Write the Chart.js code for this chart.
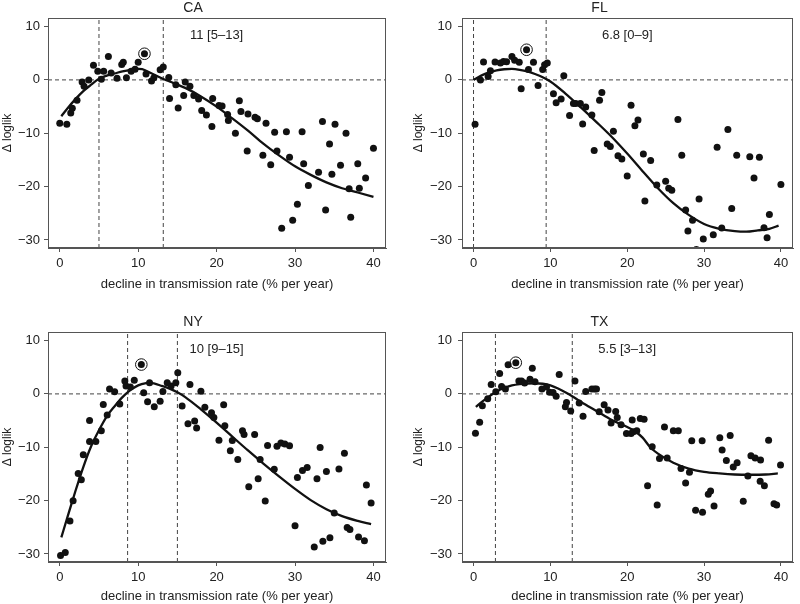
<!DOCTYPE html>
<html>
<head>
<meta charset="utf-8">
<script src="https://cdn.jsdelivr.net/npm/chart.js@4.4.1/dist/chart.umd.min.js"></script>
<style>
  body { margin: 0; background: #fff; }
  #wrap { position: relative; width: 800px; height: 604px; overflow: hidden; }
  canvas { position: absolute; }
</style>
</head>
<body>
<div id="wrap">
  <canvas id="chartCA" width="400" height="292" style="left:0;top:0"></canvas>
  <canvas id="chartFL" width="400" height="292" style="left:400px;top:0"></canvas>
  <canvas id="chartNY" width="400" height="290" style="left:0;top:314px"></canvas>
  <canvas id="chartTX" width="400" height="290" style="left:400px;top:314px"></canvas>
</div>
<script>
const xTicks = [0, 10, 20, 30, 40];
const yTicks = [-30, -20, -10, 0, 10];

// CA
const caX = [0.0, 0.9, 1.4, 1.6, 2.2, 2.85, 3.1, 3.7, 4.3, 4.85, 5.3, 5.6, 6.2, 6.55, 7.3, 7.9, 8.1, 8.5, 9.1, 9.6,
  10.0, 10.8, 11.0, 11.7, 12.0, 12.8, 13.2, 13.9, 14.0, 14.8, 15.1, 15.8, 16.0, 16.6, 17.1, 17.7, 18.1, 18.7, 19.4, 19.5,
  20.3, 20.7, 21.4, 21.5, 22.4, 22.9, 23.1, 23.9, 24.0, 24.9, 25.2, 25.9, 26.3, 26.9, 27.4, 27.7, 28.3, 28.9, 29.3, 29.7,
  30.3, 30.9, 31.1, 31.7, 33.0, 33.5, 33.9, 34.4, 34.7, 35.1, 35.8, 36.5, 36.9, 37.1, 38.0, 38.2, 39.0, 40.0];
const caY = [-8.1, -8.3, -6.2, -5.3, -3.8, -0.4, -1.2, 0.0, 2.75, 1.6, 0.1, 1.6, 4.4, 1.3, 0.3, 2.9, 3.3, 0.4, 1.6, 2.0,
  3.3, 4.9, 1.1, -0.2, 0.4, 1.9, 2.4, 0.45, -3.5, -0.9, -5.25, -2.9, -0.4, -1.2, -2.9, -3.6, -5.75, -6.6, -8.75, -3.5,
  -4.8, -4.9, -6.5, -7.6, -10.0, -3.9, -5.9, -13.3, -6.4, -7.0, -7.3, -14.1, -8.1, -15.9, -9.8, -13.3, -27.8, -9.7, -14.5, -26.3,
  -23.3, -9.7, -15.7, -19.8, -17.3, -7.8, -24.4, -12.0, -17.7, -8.3, -16.0, -10.0, -20.4, -25.75, -15.7, -20.3, -18.4, -12.8];
const caFitX = [0.2, 1, 2, 3, 4, 5, 6, 7, 8, 9, 10, 10.5, 11, 12, 13, 14, 16, 18, 20, 22, 24, 26, 28, 30, 32, 34, 36, 38, 40];
const caFitY = [-6.8, -5.3, -3.6, -2.1, -0.9, 0.2, 0.8, 1.2, 1.6, 1.9, 2.05, 2.0, 1.7, 1.0, 0.3, -0.3, -1.5, -3.1, -5.0, -7.2, -9.5, -12.0, -14.2, -16.2, -17.8, -19.2, -20.3, -21.1, -21.9];
const caBest = [10.8, 4.9];
const caCI = [5.0, 13.2];
const caLabel = "11 [5–13]";

// FL
const flX = [0.2, 0.9, 1.3, 1.9, 2.2, 2.8, 3.5, 3.9, 4.3, 5.0, 5.35, 5.95, 6.2, 6.9, 7.15, 7.8, 8.4, 9.0, 9.25, 9.6,
  10.4, 10.75, 11.4, 11.75, 12.5, 13.0, 13.3, 13.9, 14.2, 14.6, 15.4, 15.7, 16.4, 16.7, 17.4, 17.8, 18.2, 18.8, 19.3, 20.0,
  20.5, 21.0, 21.4, 22.1, 22.3, 23.05, 23.85, 25.0, 25.4, 25.8, 26.6, 27.1, 27.6, 27.9, 28.5, 29.0, 29.35, 29.9,
  31.2, 31.7, 32.3, 33.1, 33.6, 34.25, 35.95, 36.5, 37.2, 37.8, 38.2, 38.5, 40.0];
const flY = [-8.3, 0.0, 3.35, 0.65, 1.7, 3.35, 3.15, 3.45, 3.4, 4.4, 3.7, 3.3, -1.65, 5.65, 1.95, 3.3, -1.05, 1.95, 2.85, 3.15,
  -2.6, -4.3, -3.6, 0.8, -6.65, -4.4, -4.4, -4.4, -8.25, -5.1, -6.6, -13.25, -3.8, -2.35, -12.0, -12.5, -9.6, -14.2, -14.8, -18.0,
  -4.75, -8.6, -7.5, -13.9, -22.7, -15.1, -19.7, -19.0, -20.3, -20.7, -7.4, -14.1, -24.4, -28.3, -26.3, -31.8, -22.3, -29.8,
  -29.0, -12.6, -27.75, -9.3, -24.1, -14.1, -14.4, -18.4, -14.5, -27.7, -29.6, -25.2, -19.6];
const flFitX = [0, 1, 2, 3, 4, 5, 6, 7, 8, 9, 10, 12, 14, 16, 18, 20, 22, 24, 26, 28, 30, 32, 34, 35.5, 37, 38.5, 39.7];
const flFitY = [0, 0.8, 1.4, 1.8, 2.0, 2.05, 1.9, 1.6, 1.1, 0.5, -0.3, -2.6, -5.2, -7.9, -10.7, -13.8, -17.1, -20.3, -23.1, -25.3, -27.0, -27.9, -28.35, -28.45, -28.2, -27.9, -27.3];
const flBest = [6.9, 5.65];
const flCI = [0.0, 9.45];
const flLabel = "6.8 [0–9]";

// NY
const nyX = [0.1, 0.7, 1.3, 1.7, 2.35, 2.75, 3.0, 3.8, 3.8, 4.6, 5.3, 5.55, 6.05, 6.35, 7.0, 7.65, 8.3, 8.45, 9.0, 9.5,
  10.4, 10.7, 11.2, 11.45, 12.05, 12.8, 13.15, 13.7, 14.2, 14.8, 15.05, 15.6, 16.35, 16.6, 17.2, 17.45, 18.0, 18.5, 19.35, 19.65,
  20.3, 20.9, 21.05, 21.75, 22.0, 22.7, 23.3, 23.5, 24.1, 24.85, 25.3, 25.55, 26.2, 26.5, 27.35, 27.7, 28.2, 28.7, 29.3,
  30.0, 30.3, 30.95, 31.55, 32.45, 32.8, 33.2, 33.55, 34.0, 34.45, 35.0, 35.6, 36.3, 36.65, 37.0, 38.1, 38.85, 39.1, 39.7];
const nyY = [-30.3, -29.7, -23.8, -20.0, -14.9, -16.1, -11.4, -5.0, -8.9, -8.9, -6.9, -2.0, -3.95, 0.9, 0.4, -1.9, 2.4, 1.5, 1.3, 2.55,
  5.5, 0.2, -1.45, 2.1, -2.4, -1.4, 0.45, 2.1, 1.5, 2.1, 3.95, -2.25, -5.6, 1.75, -5.1, -6.4, 0.5, -2.5, -3.55, -4.4,
  -8.7, -2.05, -5.95, -10.65, -8.75, -12.3, -6.9, -7.6, -17.4, -7.6, -15.9, -12.3, -20.05, -9.65, -14.1, -9.8, -9.2, -9.4, -9.7,
  -24.7, -15.65, -14.35, -13.8, -28.7, -15.9, -10.05, -27.6, -14.55, -26.95, -22.3, -14.05, -11.1, -25.05, -25.4, -26.8, -27.5, -17.05, -20.45];
const nyFitX = [0.2, 1, 2, 3, 4, 5, 6, 7, 8, 9, 10, 11, 11.5, 12, 13, 14, 15, 16, 18, 20, 22, 24, 26, 28, 30, 32, 34, 36, 38, 39.7];
const nyFitY = [-26.9, -23.0, -18.2, -13.7, -9.8, -6.8, -4.2, -2.3, -0.6, 0.7, 1.6, 2.0, 2.05, 1.95, 1.5, 1.0, 0.3, -0.6, -2.9, -5.4, -8.0, -10.6, -13.1, -15.5, -17.8, -19.9, -21.6, -22.9, -23.8, -24.4];
const nyBest = [10.4, 5.5];
const nyCI = [8.65, 15.0];
const nyLabel = "10 [9–15]";

// TX
const txX = [0.25, 0.8, 1.15, 1.85, 2.3, 2.9, 3.4, 3.65, 4.15, 4.5, 5.5, 5.9, 6.25, 6.65, 7.35, 7.65, 8.0, 8.9, 9.5, 9.9,
  10.35, 10.75, 11.15, 11.95, 12.1, 12.65, 13.2, 13.75, 14.25, 14.6, 15.4, 15.75, 16.0, 16.35, 17.0, 17.5, 17.9, 18.5, 18.7, 19.2,
  19.9, 20.5, 20.65, 20.8, 21.25, 21.7, 22.2, 22.65, 23.25, 23.9, 24.2, 24.85, 25.2, 26.0, 26.65, 27.0, 27.6, 28.1, 28.4, 28.9,
  29.75, 29.8, 30.55, 30.85, 31.3, 32.05, 32.35, 32.9, 33.4, 33.8, 34.3, 35.1, 35.7, 36.1, 36.65, 37.3, 37.35, 37.85, 38.4,
  39.1, 39.45, 39.95];
const txY = [-7.35, -5.3, -2.2, -0.9, 1.75, 0.4, 3.8, 1.4, 0.9, 5.45, 5.85, 2.4, 2.4, 2.05, 2.75, 4.8, 2.3, 0.9, 1.3, 0.3,
  0.25, -0.45, 3.65, -2.4, -1.6, -3.2, 2.4, -1.7, -4.2, 0.45, 0.9, 0.9, 0.9, -3.35, -2.05, -3.0, -5.45, -3.3, -4.4, -5.8,
  -7.4, -7.4, -4.9, -7.1, -6.9, -4.6, -4.75, -17.2, -9.9, -20.8, -12.1, -6.2, -12.0, -6.9, -6.9, -14.0, -16.7, -14.7, -8.8, -21.8,
  -8.8, -22.2, -18.8, -18.2, -21.0, -8.2, -10.5, -12.5, -7.8, -13.7, -12.9, -20.1, -15.4, -11.6, -12.0, -16.35, -12.4, -17.2, -8.7,
  -20.6, -20.8, -13.3];
const txFitX = [0.3, 1, 2, 3, 4, 5, 6, 7, 8, 9, 10, 11, 12, 13, 14, 16, 18, 20, 21, 22, 23, 24, 26, 28, 30, 32, 34, 36, 38, 39.6];
const txFitY = [-2.45, -1.6, -0.5, 0.45, 1.1, 1.6, 1.85, 1.95, 2.0, 1.9, 1.6, 1.0, 0.25, -0.6, -1.5, -3.2, -4.9, -6.2, -7.0, -8.2, -10.0, -11.2, -12.9, -14.0, -14.6, -14.9, -15.1, -15.15, -15.1, -14.9];
const txBest = [5.5, 5.85];
const txCI = [2.85, 12.85];
const txLabel = "5.5 [3–13]";

const X_MIN = -1.5, X_MAX = 41.6;
const Y_MIN = -31.5, Y_MAX = 11.6;
const FONT = '"Liberation Sans", Arial, Helvetica, sans-serif';
const INK = "#222";

const framePlugin = {
  id: "frame",
  afterDatasetsDraw(chart, args, opts) {
    const { ctx, chartArea: a, scales } = chart;
    ctx.save();
    ctx.strokeStyle = "#555";
    ctx.lineWidth = 1;
    ctx.strokeRect(Math.round(a.left) + 0.5, Math.round(a.top) + 0.5, Math.round(a.width) - 1, Math.round(a.height) - 1);
    ctx.fillStyle = INK;
    ctx.font = "13px " + FONT;
    ctx.textAlign = "center";
    ctx.textBaseline = "middle";
    ctx.fillText(opts.text, scales.x.getPixelForValue(20), scales.y.getPixelForValue(8.3));
    ctx.restore();
  },
};

function dashed(points) {
  return {
    type: "line",
    data: points,
    borderColor: "#444",
    borderWidth: 1,
    borderDash: [4, 3],
    pointRadius: 0,
    order: 5,
  };
}

// real minus sign like the original figure
const minus = (v) => String(v).replace("-", "\u2212");

function makePanel(id, name, xs, ys, fitX, fitY, best, ci, label, yWidth, yPad, yTitlePad, xHeight, rightPad) {
  const pts = xs.map((x, i) => ({ x: x, y: ys[i] }));
  const fit = fitX.map((x, i) => ({ x: x, y: fitY[i] }));
  const config = {
    type: "scatter",
    data: {
      datasets: [
        {
          data: pts,
          backgroundColor: "#111",
          borderWidth: 0,
          pointRadius: 3.5,
          clip: 0,
          order: 1,
        },
        {
          data: [{ x: best[0], y: best[1] }],
          backgroundColor: "rgba(0,0,0,0)",
          borderColor: "#111",
          borderWidth: 1,
          pointRadius: 5.8,
          order: 2,
        },
        {
          type: "line",
          data: fit,
          borderColor: "#111",
          borderWidth: 2.3,
          pointRadius: 0,
          cubicInterpolationMode: "monotone",
          order: 3,
        },
        dashed([{ x: X_MIN, y: 0 }, { x: X_MAX, y: 0 }]),
        dashed([{ x: ci[0], y: Y_MIN }, { x: ci[0], y: Y_MAX }]),
        dashed([{ x: ci[1], y: Y_MIN }, { x: ci[1], y: Y_MAX }]),
      ],
    },
    options: {
      responsive: false,
      animation: false,
      layout: { padding: { left: 0, right: rightPad, top: 0, bottom: 0 } },
      plugins: {
        legend: { display: false },
        tooltip: { enabled: false },
        title: {
          display: true,
          text: name,
          color: INK,
          font: { size: 14, family: FONT, weight: "normal" },
          padding: { top: 0, bottom: 1.2 },
        },
        frame: { text: label },
      },
      scales: {
        x: {
          type: "linear",
          min: X_MIN,
          max: X_MAX,
          afterBuildTicks: (s) => { s.ticks = xTicks.map((v) => ({ value: v })); },
          afterFit: (s) => { s.height = xHeight; },
          grid: { drawOnChartArea: false, drawTicks: true, tickLength: 4, color: "#555" },
          border: { display: true, color: "#555" },
          ticks: { color: INK, font: { size: 13, family: FONT }, padding: 4, maxRotation: 0 },
          title: {
            display: true,
            text: "decline in transmission rate (% per year)",
            color: INK,
            font: { size: 13, family: FONT },
            padding: { top: 0, bottom: 0 },
          },
        },
        y: {
          type: "linear",
          min: Y_MIN,
          max: Y_MAX,
          afterBuildTicks: (s) => { s.ticks = yTicks.map((v) => ({ value: v })); },
          afterFit: (s) => { s.width = yWidth; },
          grid: { drawOnChartArea: false, drawTicks: true, tickLength: 4, color: "#555" },
          border: { display: true, color: "#555" },
          ticks: { color: INK, font: { size: 13, family: FONT }, padding: yPad, callback: (v) => minus(v) },
          title: {
            display: true,
            text: "Δ loglik",
            color: INK,
            font: { size: 12, family: FONT },
            padding: { top: yTitlePad, bottom: 0 },
          },
        },
      },
    },
    plugins: [framePlugin],
  };
  return new Chart(document.getElementById(id), config);
}

var chartCA = makePanel("chartCA", "CA", caX, caY, caFitX, caFitY, caBest, caCI, caLabel, 48, 4, 0, 44, 14);
var chartFL = makePanel("chartFL", "FL", flX, flY, flFitX, flFitY, flBest, flCI, flLabel, 62, 6, 11, 44, 1);
var chartNY = makePanel("chartNY", "NY", nyX, nyY, nyFitX, nyFitY, nyBest, nyCI, nyLabel, 48, 4, 0, 42, 14);
var chartTX = makePanel("chartTX", "TX", txX, txY, txFitX, txFitY, txBest, txCI, txLabel, 62, 6, 11, 42, 1);
</script>
</body>
</html>
